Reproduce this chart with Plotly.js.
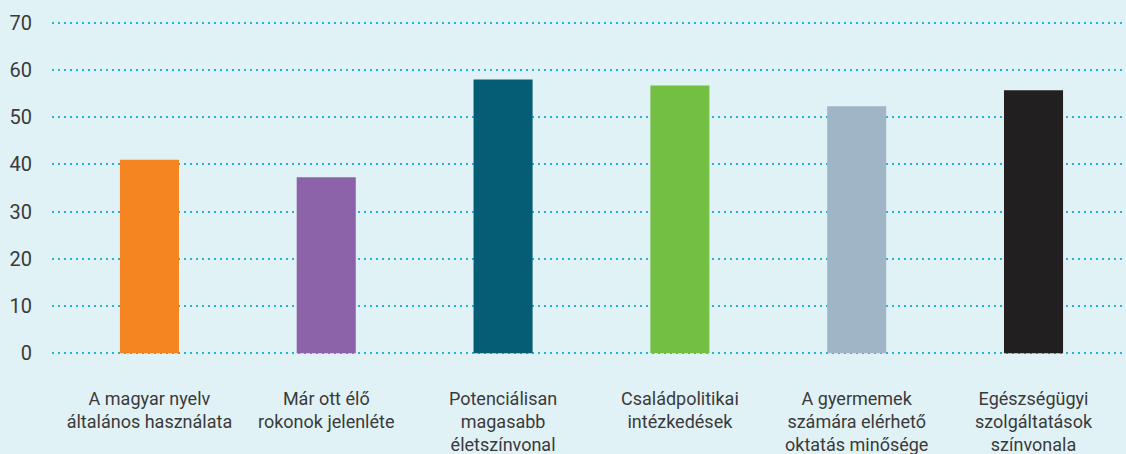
<!DOCTYPE html>
<html>
<head>
<meta charset="utf-8">
<script src="https://cdn.plot.ly/plotly-3.0.1.min.js"></script>
<style>html,body{margin:0;padding:0;background:#e1f2f7;}#chart{width:1126px;height:454px;}</style>
</head>
<body>
<div id="chart"></div>
<script>
const categories = [
  "A magyar nyelv<br>általános használata",
  "Már ott élő<br>rokonok jelenléte",
  "Potenciálisan<br>magasabb<br>életszínvonal",
  "Családpolitikai<br>intézkedések",
  "A gyermemek<br>számára elérhető<br>oktatás minősége",
  "Egészségügyi<br>szolgáltatások<br>színvonala"
];
const values = [41, 37.3, 58, 56.7, 52.3, 55.7];
const barColors = ["#f58521", "#8c62a8", "#045d75", "#72bf44", "#a0b5c5", "#221f20"];
const yTicks = [0, 10, 20, 30, 40, 50, 60, 70];

Plotly.newPlot("chart", [{
  type: "bar",
  x: categories,
  y: values,
  marker: {color: barColors, line: {width: 0}},
  hoverinfo: "none"
}], {
  width: 1126, height: 454,
  margin: {l: 52, r: 0, t: 18, b: 96, pad: 0},
  paper_bgcolor: "#e1f2f7",
  plot_bgcolor: "#e1f2f7",
  bargap: 0.666,
  showlegend: false,
  font: {family: "Roboto, 'Open Sans', sans-serif", color: "#3a3a3a"},
  xaxis: {
    type: "category",
    range: [-0.551, 5.523],
    showgrid: false, zeroline: false, showline: false,
    ticks: "outside", ticklen: 24, tickcolor: "rgba(0,0,0,0)",
    tickfont: {size: 18, color: "#3a3a3a"},
    fixedrange: true
  },
  yaxis: {
    range: [-1, 71],
    tickvals: yTicks,
    ticktext: yTicks.map(String),
    showgrid: true, gridcolor: "#22b4d6", gridwidth: 2, griddash: "2px,4px",
    zeroline: false, showline: false,
    ticks: "outside", ticklen: 15, tickcolor: "rgba(0,0,0,0)",
    tickfont: {size: 20, color: "#3a3a3a"},
    fixedrange: true
  }
}, {displayModeBar: false, staticPlot: true});
</script>
</body>
</html>
